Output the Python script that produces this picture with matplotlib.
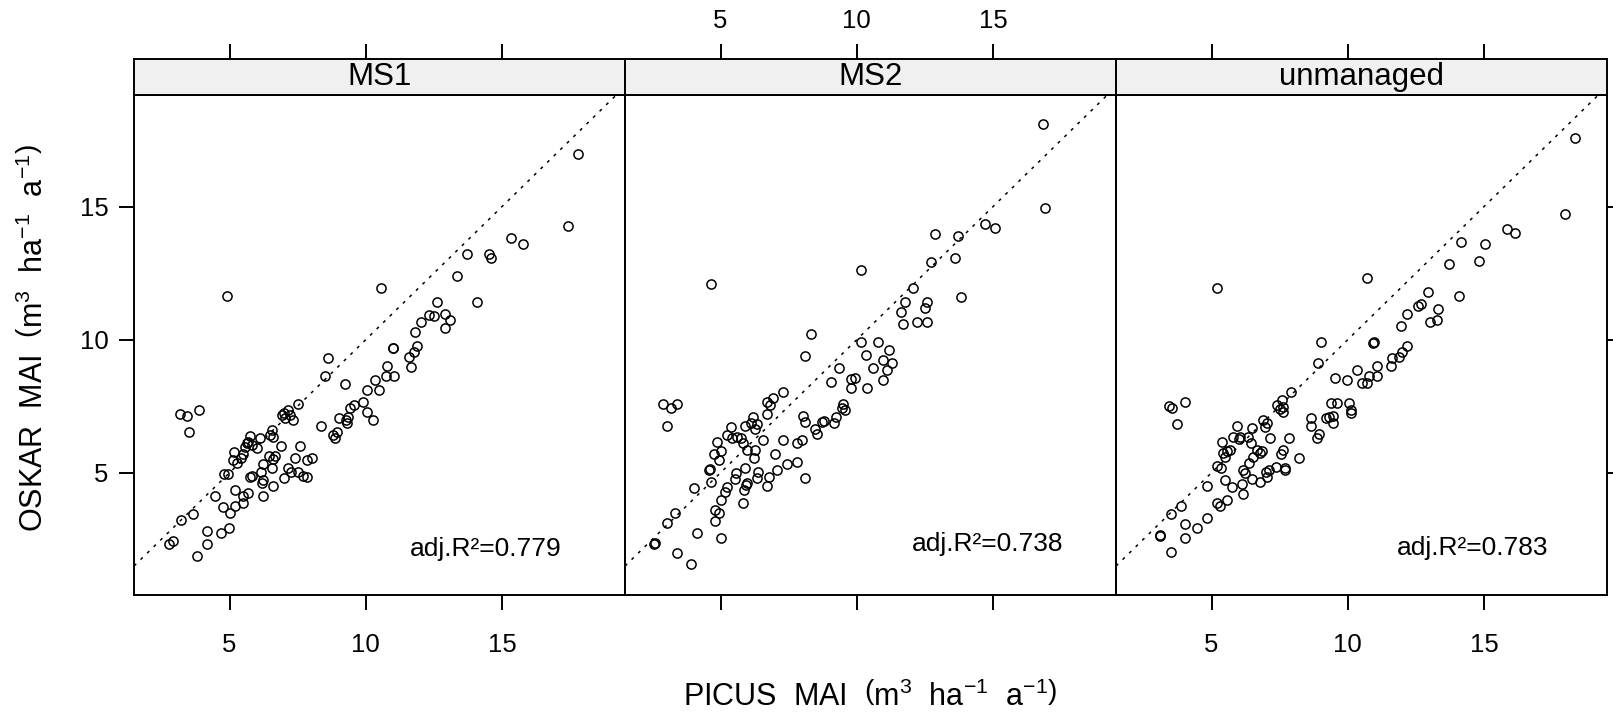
import matplotlib
matplotlib.use("Agg")
import matplotlib.pyplot as plt

# ── data (PICUS MAI vs OSKAR MAI, m3 ha-1 a-1) ──
panels = ["MS1", "MS2", "unmanaged"]
adj_r2 = [0.779, 0.738, 0.783]
x_ticks = [5, 10, 15]
y_ticks = [5, 10, 15]

ms1_x = [4.90, 8.63, 8.51, 9.24, 10.34, 10.04, 9.89, 10.04, 10.28, 9.57, 9.42, 9.00, 9.28, 9.30,
         9.36, 8.79, 8.87, 8.94, 8.35, 7.53, 6.98, 7.16, 7.04, 7.34, 7.22, 6.92, 3.18, 3.45, 3.86,
         3.50, 6.55, 6.49, 6.61, 6.12, 5.75, 5.63, 5.81, 6.00, 5.69, 5.56, 6.88, 7.59, 6.67, 6.61,
         6.43, 7.41, 7.83, 8.04, 5.17, 5.12, 5.41, 5.26, 5.48, 4.81, 4.96, 5.81, 5.75, 6.15, 6.22,
         6.55, 6.18, 6.22, 7.16, 7.26, 7.00, 7.53, 7.71, 7.83, 6.59, 6.22, 5.69, 5.51, 5.48, 5.20,
         4.47, 4.75, 5.02, 5.20, 3.65, 3.21, 4.16, 4.68, 4.98, 2.91, 2.76, 4.16, 3.80,
         10.55, 17.81, 17.44, 15.32, 15.76, 13.70, 14.54, 14.59, 13.34, 14.07, 12.61, 12.34, 12.52,
         12.91, 13.09, 12.91, 12.02, 11.81, 11.87, 11.77, 11.60, 11.65, 10.99, 10.99, 10.77, 10.75,
         11.04, 10.50]
ms1_y = [11.63, 9.30, 8.63, 8.33, 8.48, 8.11, 7.64, 7.29, 6.98, 7.54, 7.42, 7.04, 6.98, 6.86,
         7.11, 6.42, 6.29, 6.54, 6.76, 7.57, 7.23, 7.36, 7.04, 6.98, 7.17, 7.17, 7.21, 7.13, 7.36,
         6.53, 6.60, 6.42, 6.35, 6.29, 6.38, 6.10, 6.04, 5.91, 6.17, 5.98, 6.01, 6.01, 5.63, 5.50,
         5.63, 5.54, 5.48, 5.54, 5.79, 5.48, 5.54, 5.35, 5.70, 4.95, 4.95, 4.87, 4.85, 5.04, 5.31,
         5.16, 4.63, 4.73, 5.16, 5.04, 4.79, 5.04, 4.88, 4.85, 4.50, 4.12, 4.25, 4.12, 3.87, 4.35,
         4.12, 3.72, 3.50, 3.75, 3.45, 3.22, 2.82, 2.74, 2.91, 2.44, 2.32, 2.32, 1.87,
         11.93, 16.98, 14.27, 13.81, 13.58, 13.22, 13.22, 13.06, 12.39, 11.42, 11.42, 10.93, 10.89,
         10.97, 10.74, 10.43, 10.65, 10.28, 9.76, 9.55, 9.34, 8.99, 9.70, 9.68, 9.01, 8.63,
         8.63, 8.11]

ms2_x = [4.64, 10.14, 8.31, 8.10, 10.14, 10.34, 9.33, 9.04, 9.79, 9.94, 9.79, 9.49, 9.45, 9.57,
         9.24, 9.17, 8.78, 8.72, 8.47, 8.53, 8.02, 8.10, 7.98, 7.80, 7.28, 6.94, 6.70, 6.82, 6.70,
         6.19, 6.11, 6.33, 6.27, 5.90, 5.37, 5.25, 5.41, 5.59, 5.74, 5.84, 5.96, 6.27, 6.55, 7.28,
         6.98, 6.21, 4.86, 4.76, 5.01, 4.95, 4.59, 4.62, 4.64, 5.90, 5.57, 5.53, 5.96, 5.94, 5.86,
         6.39, 6.35, 6.78, 6.70, 7.06, 7.43, 7.80, 8.10, 5.23, 5.17, 5.01, 4.80, 4.95, 4.80, 5.81,
         4.02, 3.33, 3.02, 4.13, 5.01, 2.56, 2.58, 3.39, 3.91, 2.88, 3.17, 3.39, 3.02,
         16.83, 16.91, 14.71, 15.08, 12.87, 13.73, 13.61, 12.72, 13.83, 12.05, 11.77, 12.57, 12.51,
         11.63, 11.69, 12.23, 12.57, 10.79, 11.20, 10.59, 10.95, 11.28, 11.12, 10.95, 10.37]
ms2_y = [12.09, 12.62, 10.20, 9.39, 9.90, 9.42, 8.95, 8.41, 8.51, 8.55, 8.20, 7.58, 7.42, 7.36,
         7.11, 6.86, 6.95, 6.89, 6.63, 6.45, 7.14, 6.89, 6.23, 6.10, 8.02, 7.80, 7.64, 7.54, 7.21,
         7.08, 6.86, 6.83, 6.63, 6.76, 6.71, 6.42, 6.29, 6.35, 6.29, 6.10, 5.87, 5.87, 6.23, 6.23,
         5.69, 5.54, 6.17, 5.70, 5.83, 5.48, 5.10, 5.12, 4.66, 5.19, 4.98, 4.75, 4.63, 4.54, 4.35,
         5.04, 4.79, 4.82, 4.50, 5.10, 5.31, 5.41, 4.79, 4.45, 4.29, 3.97, 3.60, 3.50, 3.20, 3.87,
         4.41, 3.50, 3.12, 2.74, 2.53, 2.32, 2.34, 1.99, 1.57, 7.57, 7.42, 7.57, 6.76,
         18.10, 14.94, 14.34, 14.21, 13.97, 13.90, 13.06, 12.91, 11.62, 11.93, 11.40, 11.40, 11.18,
         11.03, 10.58, 10.65, 10.65, 9.90, 9.61, 8.95, 9.24, 9.13, 8.86, 8.48, 8.20]

unm_x = [5.19, 9.01, 8.92, 10.33, 9.53, 9.96, 9.37, 9.62, 10.06, 10.11, 10.11, 9.20, 9.32, 9.47,
         9.45, 8.64, 8.65, 8.96, 8.86, 7.91, 7.39, 7.57, 7.64, 7.64, 7.52, 6.88, 7.02, 6.96, 5.93,
         6.48, 5.80, 6.05, 6.32, 5.99, 6.45, 7.13, 7.85, 6.66, 6.84, 6.76, 6.51, 6.39, 5.37, 5.43,
         5.56, 5.66, 5.50, 5.19, 5.34, 5.50, 5.74, 6.17, 6.23, 6.11, 6.17, 6.48, 6.78, 7.02, 7.00,
         7.10, 7.38, 7.63, 7.55, 7.71, 7.71, 8.21, 4.82, 5.19, 5.31, 5.56, 4.82, 4.45, 3.87, 3.50,
         4.03, 4.03, 3.09, 3.09, 3.50, 3.42, 3.54, 4.03, 3.72,
         10.72, 18.34, 17.98, 15.84, 16.14, 14.15, 15.04, 14.82, 13.72, 12.96, 14.10, 12.59, 12.69,
         12.19, 11.94, 13.02, 13.29, 13.33, 10.94, 10.96, 12.16, 11.98, 11.90, 11.61, 11.58, 11.09,
         11.09, 10.79, 10.72, 10.51]
unm_y = [11.93, 9.90, 9.13, 8.86, 8.55, 8.47, 7.63, 7.63, 7.61, 7.36, 7.26, 7.05, 7.08, 7.13,
         6.86, 7.05, 6.76, 6.45, 6.29, 8.02, 7.54, 7.73, 7.48, 7.29, 7.38, 6.98, 6.86, 6.73, 6.77,
         6.67, 6.35, 6.35, 6.35, 6.25, 6.12, 6.29, 6.29, 5.87, 5.83, 5.73, 5.60, 5.35, 6.17, 5.73,
         5.83, 5.87, 5.60, 5.25, 5.16, 4.72, 4.45, 5.10, 5.00, 4.57, 4.20, 4.75, 4.66, 4.85, 5.04,
         5.10, 5.20, 5.85, 5.70, 5.16, 5.10, 5.54, 4.50, 3.87, 3.75, 3.97, 3.31, 2.91, 3.75, 3.45,
         3.07, 2.53, 2.66, 2.63, 2.03, 7.51, 7.42, 7.65, 6.83,
         12.31, 17.57, 14.72, 14.18, 14.02, 13.66, 13.58, 12.97, 12.83, 11.78, 11.64, 11.26, 11.34,
         10.95, 10.52, 10.68, 10.74, 11.17, 9.89, 9.91, 9.76, 9.55, 9.36, 9.30, 9.01, 9.01,
         8.63, 8.63, 8.36, 8.36]

series = [(ms1_x, ms1_y), (ms2_x, ms2_y), (unm_x, unm_y)]

# ── styling ──────────────────────────────────────────────────────────
plt.rcParams["font.family"] = ["Liberation Sans", "DejaVu Sans"]
plt.rcParams["mathtext.fontset"] = "custom"
plt.rcParams["mathtext.rm"] = "Liberation Sans"
plt.rcParams["mathtext.it"] = "Liberation Sans:italic"

W, H = 1613, 717
fig = plt.figure(figsize=(W / 100, H / 100), dpi=100)

xlim = (1.49, 19.52)
ylim = (0.40, 19.20)
panel_w, left0 = 491, 134
r2_pos = [(0.717, 0.092), (0.738, 0.102), (0.727, 0.093)]
lw = 1.4
tick_kw = dict(direction="out", length=10.5, width=lw, labelsize=18.5)

for i, (name, (xs, ys)) in enumerate(zip(panels, series)):
    left = (left0 + i * panel_w) / W
    ax = fig.add_axes([left, (H - 595) / H, panel_w / W, 500 / H])
    strip = fig.add_axes([left, (H - 95) / H, panel_w / W, 36 / H])

    ax.plot(xlim, xlim, linestyle=(0, (2, 4)), color="black", lw=1.1, zorder=1)
    ax.plot(xs, ys, "o", mfc="none", mec="black", ms=6.6, mew=1.1, zorder=2)
    ax.text(*r2_pos[i], f"adj.R\u00b2={adj_r2[i]:.3f}", transform=ax.transAxes,
            ha="center", va="center", fontsize=19)

    ax.set_xlim(xlim)
    ax.set_ylim(ylim)
    ax.set_xticks(x_ticks)
    ax.set_yticks(y_ticks)
    ax.tick_params(axis="x", bottom=True, top=False, labelbottom=(i != 1), pad=17, **tick_kw)
    ax.tick_params(axis="y", left=(i == 0), labelleft=(i == 0), right=(i == 2),
                   labelright=False, pad=8, **tick_kw)
    for s in ax.spines.values():
        s.set_linewidth(lw)

    strip.set_facecolor("#f0f0f0")
    strip.set_xlim(xlim)
    strip.set_ylim(0, 1)
    strip.set_xticks(x_ticks)
    strip.set_yticks([])
    strip.tick_params(axis="x", bottom=False, top=True, labelbottom=False,
                      labeltop=(i == 1), pad=8, **tick_kw)
    for s in strip.spines.values():
        s.set_linewidth(lw)
    strip.text(0.5, 0.5, name, transform=strip.transAxes, ha="center", va="center",
               fontsize=22.5)

label_tail = r"  MAI  $\left(\mathrm{m}^{3}\ \ \mathrm{ha}^{-1}\ \ \mathrm{a}^{-1}\right)$"
fig.text((left0 + 1.5 * panel_w) / W, 1 - 706 / H, "PICUS" + label_tail,
         ha="center", va="baseline", fontsize=22)
fig.text(43 / W, 1 - 338 / H, "OSKAR" + label_tail, ha="center", va="baseline",
         rotation=90, rotation_mode="anchor", fontsize=22)

fig.savefig("out.png", dpi=100)
